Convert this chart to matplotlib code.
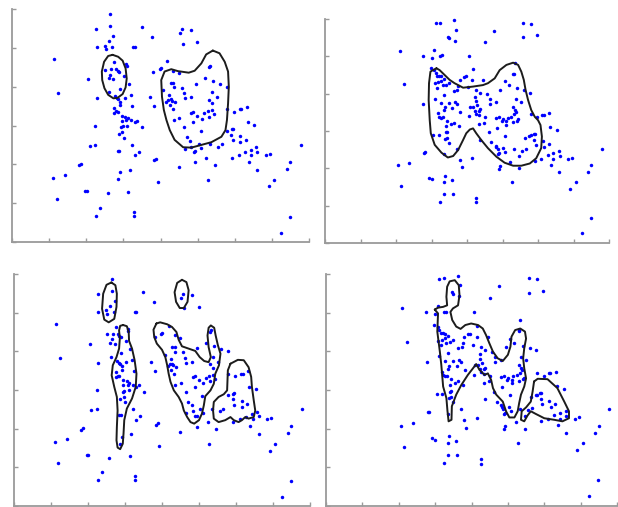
import numpy as np
import matplotlib.pyplot as plt

# sample shown in the two left panels
left_x = [2.64, 2.64, 3.50, 2.26, 4.57, 4.82, 4.52, 2.72, 3.78, 2.60,
          4.99, 4.60, 2.50, 2.69, 2.28, 3.27, 3.30, 2.52, 1.13, 4.18,
          2.76, 3.07, 5.32, 5.30, 3.09, 2.68, 2.80, 3.98, 4.01, 2.51,
          2.85, 2.89, 3.81, 4.35, 4.49, 2.64, 3.02, 5.19, 2.60, 2.06,
          2.73, 5.41, 4.27, 4.35, 4.95, 5.59, 3.14, 5.78, 4.58, 4.36,
          2.90, 4.08, 2.62, 5.39, 1.25, 4.63, 4.23, 2.78, 3.20, 2.83,
          3.04, 2.86, 2.28, 3.71, 4.65, 4.82, 5.52, 4.27, 4.21, 4.31,
          4.15, 5.30, 2.92, 4.38, 5.39, 4.25, 2.91, 3.24, 3.82, 2.75,
          4.33, 5.79, 5.98, 6.14, 6.18, 6.32, 2.80, 2.76, 2.85, 5.28,
          5.18, 5.39, 5.44, 4.88, 4.83, 2.95, 3.05, 4.99, 3.12, 4.51,
          5.12, 5.31, 3.21, 4.36, 3.30, 3.38, 2.95, 4.88, 6.36, 6.53,
          2.23, 2.94, 2.98, 3.10, 3.51, 4.64, 5.95, 5.92, 5.79, 5.08,
          2.97, 2.87, 5.91, 6.15, 4.71, 3.01, 6.31, 5.95, 4.80, 6.15,
          5.34, 5.04, 5.66, 2.09, 2.23, 3.22, 4.83, 5.56, 6.57, 5.10,
          4.65, 6.43, 2.85, 2.89, 4.94, 4.90, 3.41, 6.27, 6.61, 6.45,
          6.11, 6.85, 6.94, 3.31, 5.23, 5.93, 3.83, 3.88, 6.39, 4.94,
          7.50, 1.80, 1.86, 5.47, 4.49, 7.41, 6.61, 3.17, 2.91, 1.42,
          1.10, 2.86, 5.28, 7.06, 3.92, 6.92, 1.96, 2.01, 3.13, 2.58,
          1.20, 2.37, 3.28, 2.26, 3.28, 7.50, 7.24, 7.79, 3.08]
left_y = [5.87, 5.56, 5.53, 5.49, 5.49, 5.46, 5.39, 5.30, 5.28, 5.17,
          5.15, 5.11, 5.06, 5.03, 5.01, 5.01, 5.01, 4.96, 4.71, 4.66,
          4.63, 4.58, 4.54, 4.51, 4.52, 4.45, 4.46, 4.45, 4.47, 4.44,
          4.40, 4.37, 4.37, 4.41, 4.34, 4.31, 4.27, 4.22, 4.22, 4.19,
          4.19, 4.15, 4.10, 4.10, 4.08, 4.07, 4.06, 4.00, 3.97, 3.99,
          3.95, 3.91, 3.86, 3.85, 3.83, 3.83, 3.79, 3.76, 3.78, 3.71,
          3.72, 3.68, 3.70, 3.73, 3.70, 3.73, 3.73, 3.67, 3.66, 3.64,
          3.61, 3.66, 3.61, 3.60, 3.58, 3.53, 3.53, 3.49, 3.49, 3.46,
          3.42, 3.42, 3.36, 3.42, 3.42, 3.48, 3.37, 3.33, 3.35, 3.37,
          3.32, 3.39, 3.29, 3.36, 3.33, 3.25, 3.23, 3.25, 3.19, 3.19,
          3.18, 3.23, 3.13, 3.13, 3.09, 3.12, 3.12, 3.08, 3.08, 3.02,
          2.99, 2.95, 2.98, 2.99, 2.95, 2.95, 2.91, 2.90, 2.86, 2.85,
          2.82, 2.77, 2.76, 2.72, 2.70, 2.69, 2.63, 2.62, 2.60, 2.57,
          2.52, 2.52, 2.52, 2.47, 2.50, 2.50, 2.45, 2.45, 2.44, 2.41,
          2.40, 2.38, 2.35, 2.35, 2.34, 2.33, 2.33, 2.31, 2.32, 2.25,
          2.25, 2.25, 2.27, 2.23, 2.17, 2.17, 2.10, 2.14, 2.07, 2.05,
          2.06, 1.97, 2.01, 1.98, 1.92, 1.89, 1.86, 1.85, 1.79, 1.73,
          1.66, 1.61, 1.60, 1.60, 1.55, 1.43, 1.32, 1.31, 1.29, 1.25,
          1.10, 0.88, 0.78, 0.67, 0.68, 0.64, 0.22, 2.50, 3.14]

# sample shown in the two right panels
right_x = [3.12, 3.24, 3.62, 3.69, 3.46, 3.49, 3.65, 2.10, 2.76, 3.08,
           3.25, 3.29, 3.00, 2.98, 3.08, 3.12, 3.16, 3.21, 3.28, 3.35,
           3.28, 3.18, 3.09, 2.22, 3.16, 3.31, 3.41, 3.48, 3.62, 3.73,
           3.79, 3.91, 3.96, 3.76, 3.10, 3.36, 3.48, 3.26, 2.77, 3.39,
           3.59, 3.67, 3.71, 3.81, 3.35, 3.19, 3.22, 3.27, 3.32, 3.43,
           3.63,
           5.58, 5.81, 4.75, 5.59, 5.97, 4.52, 4.07, 4.16, 4.14, 4.46,
           5.34, 5.31, 5.30, 5.07, 5.18, 5.42, 4.94, 5.60, 5.77, 4.03,
           4.26, 4.36, 4.56, 4.22, 4.24, 4.64, 4.64, 4.81, 5.37, 5.51,
           4.09, 4.17, 4.28, 4.38, 4.34, 4.23, 4.26, 4.34, 4.06, 4.50,
           4.82, 4.90, 5.00, 5.15, 5.25, 5.30, 5.36, 5.39, 5.32, 5.45,
           5.30, 5.11, 4.49, 4.34, 5.79, 5.98, 6.12, 6.17, 6.31,
           3.04, 3.20, 3.40, 3.45, 3.43, 3.37, 3.48, 3.56, 3.77, 3.42,
           2.80, 2.83, 3.35, 3.71, 3.79, 3.85, 2.06, 2.38, 3.38, 3.35,
           3.57, 2.92, 3.00, 2.15, 3.35, 3.61, 3.25,
           4.85, 4.98, 5.11, 5.42, 4.63, 5.06, 4.38, 4.69, 4.81, 4.83,
           4.86, 5.02, 5.08, 4.88, 4.91, 5.32, 5.46, 5.54, 5.66, 5.63,
           5.76, 5.81, 5.89, 5.92, 5.90, 5.95, 6.13, 6.30, 6.18, 6.09,
           5.92, 5.46, 5.21, 4.92, 4.89, 4.14, 5.27, 4.25, 4.26, 6.35,
           6.54, 6.28, 6.42, 6.59, 6.61, 6.42, 6.38, 6.60, 6.85, 6.95,
           7.50, 7.40, 7.07, 6.91, 7.79, 7.49, 7.24]
right_y = [5.88, 5.90, 5.96, 5.71, 5.53, 5.48, 5.42, 5.13, 5.02, 5.16,
           5.02, 5.03, 4.96, 4.68, 4.63, 4.56, 4.48, 4.47, 4.46, 4.40,
           4.35, 4.30, 4.28, 4.25, 4.16, 4.22, 4.23, 4.29, 4.08, 4.10,
           4.37, 4.44, 4.46, 4.21, 3.87, 3.96, 3.76, 3.76, 3.73, 3.63,
           3.62, 3.78, 3.73, 3.51, 3.55, 3.47, 3.38, 3.35, 3.37, 3.28,
           3.22,
           5.90, 5.87, 5.69, 5.51, 5.57, 5.39, 5.01, 4.66, 4.37, 4.36,
           4.81, 4.54, 4.53, 4.33, 4.22, 4.15, 4.10, 4.09, 4.03, 4.17,
           4.11, 4.03, 3.98, 3.92, 3.81, 3.85, 3.73, 3.77, 3.86, 3.77,
           3.65, 3.64, 3.69, 3.58, 3.54, 3.54, 3.46, 3.42, 3.40, 3.37,
           3.34, 3.37, 3.31, 3.36, 3.38, 3.65, 3.56, 3.51, 3.45, 3.31,
           3.24, 3.27, 3.22, 3.19, 3.45, 3.37, 3.44, 3.44, 3.47,
           2.89, 2.90, 2.96, 2.97, 2.82, 2.79, 2.69, 3.18, 3.13, 3.13,
           2.42, 2.44, 2.38, 2.51, 2.23, 2.03, 2.08, 2.15, 1.80, 1.63,
           1.68, 1.75, 1.71, 1.52, 1.31, 1.31, 1.11,
           3.09, 3.27, 3.17, 3.28, 2.96, 2.86, 2.76, 2.70, 2.61, 2.56,
           2.52, 2.55, 2.45, 2.38, 2.40, 2.52, 2.34, 2.47, 2.53, 2.82,
           2.87, 2.88, 2.92, 2.93, 2.77, 2.63, 2.72, 2.64, 2.56, 2.24,
           2.19, 2.00, 2.18, 2.07, 1.98, 2.27, 1.63, 1.21, 1.09, 3.10,
           3.03, 2.35, 2.41, 2.46, 2.33, 2.25, 2.09, 1.89, 2.25, 2.29,
           2.08, 1.90, 1.63, 1.45, 2.51, 0.66, 0.26]

# contour outlines, top-left panel
tl_a_x = [2.71, 2.86, 2.98, 3.06, 3.09, 3.06, 2.98, 2.84, 2.73, 2.59, 2.49, 2.43, 2.42, 2.48, 2.59]
tl_a_y = [4.82, 4.77, 4.67, 4.47, 4.21, 3.98, 3.81, 3.71, 3.70, 3.79, 3.96, 4.17, 4.39, 4.64, 4.79]
tl_b_x = [5.41, 5.59, 5.73, 5.82, 5.84, 5.82, 5.79, 5.75, 5.64, 5.37, 5.10, 4.83, 4.61,
          4.38, 4.25, 4.16, 4.09, 4.04, 4.02, 4.11, 4.29, 4.47, 4.76, 4.92, 5.10, 5.23]
tl_b_y = [4.93, 4.86, 4.64, 4.39, 4.00, 3.57, 3.14, 2.88, 2.71, 2.57, 2.50, 2.43, 2.44,
          2.63, 2.88, 3.14, 3.40, 3.74, 4.17, 4.39, 4.45, 4.40, 4.36, 4.41, 4.60, 4.83]

# contour outline, top-right panel
tr_a_x = [3.14, 3.23, 3.37, 3.51, 3.65, 3.89, 4.17, 4.45, 4.59, 4.78, 4.92, 5.11, 5.30,
          5.44, 5.53, 5.60, 5.65, 5.72, 5.81, 5.91, 6.00, 6.07, 6.11, 6.09, 5.95, 5.77,
          5.53, 5.30, 5.06, 4.83, 4.59, 4.40, 4.26, 4.17, 4.08, 3.98, 3.89, 3.75, 3.61,
          3.46, 3.28, 3.09, 2.98, 2.95, 2.92, 2.93, 2.97, 3.04]
tr_a_y = [4.68, 4.63, 4.50, 4.37, 4.28, 4.16, 4.19, 4.23, 4.28, 4.41, 4.63, 4.77, 4.83,
          4.77, 4.59, 4.37, 4.10, 3.83, 3.56, 3.38, 3.29, 3.16, 2.85, 2.54, 2.27, 2.13,
          2.07, 2.07, 2.15, 2.31, 2.54, 2.76, 2.94, 3.07, 3.04, 2.94, 2.76, 2.49, 2.33,
          2.29, 2.42, 2.63, 2.94, 3.29, 3.83, 4.28, 4.59, 4.63]

# contour outlines, bottom-left panel
bl_a_x = [2.63, 2.74, 2.78, 2.77, 2.71, 2.56, 2.44, 2.38, 2.41, 2.50]
bl_a_y = [5.78, 5.71, 5.49, 5.15, 4.84, 4.75, 4.82, 5.10, 5.49, 5.72]
bl_b_x = [2.95, 3.05, 3.10, 3.11, 3.19, 3.26, 3.31, 3.29, 3.19, 3.05, 2.98, 2.96, 2.94,
          2.87, 2.80, 2.77, 2.78, 2.80, 2.78, 2.71, 2.64, 2.67, 2.77, 2.84, 2.86, 2.84, 2.87]
bl_b_y = [4.68, 4.65, 4.50, 4.27, 4.07, 3.77, 3.42, 3.08, 2.78, 2.52, 2.22, 1.87, 1.61,
          1.47, 1.51, 1.70, 2.04, 2.47, 2.82, 3.08, 3.38, 3.64, 3.85, 4.07, 4.33, 4.54, 4.66]
bl_c_x = [4.54, 4.66, 4.72, 4.69, 4.59, 4.48, 4.38, 4.34, 4.41]
bl_c_y = [5.85, 5.79, 5.58, 5.28, 5.12, 5.12, 5.28, 5.53, 5.77]
bl_d_x = [3.85, 3.95, 4.14, 4.27, 4.39, 4.45, 4.54, 4.72, 4.90, 5.02, 5.14, 5.26, 5.32,
          5.26, 5.23, 5.26, 5.32, 5.41, 5.45, 5.51, 5.58, 5.54, 5.44, 5.40, 5.31, 5.17,
          5.13, 5.08, 5.00, 4.87, 4.77, 4.68, 4.59, 4.54, 4.45, 4.32, 4.23, 4.18, 4.14,
          4.09, 4.00, 3.86, 3.79, 3.77]
bl_d_y = [4.72, 4.75, 4.70, 4.63, 4.50, 4.30, 4.13, 4.07, 4.01, 3.85, 3.75, 3.72, 3.85,
          4.11, 4.41, 4.61, 4.67, 4.61, 4.41, 4.16, 3.94, 3.64, 3.42, 3.16, 2.99, 2.84,
          2.60, 2.39, 2.22, 2.13, 2.17, 2.30, 2.47, 2.65, 2.82, 2.99, 3.21, 3.42, 3.64,
          3.85, 4.04, 4.20, 4.37, 4.56]
bl_e_x = [5.85, 6.05, 6.21, 6.34, 6.41, 6.43, 6.48, 6.52, 6.48, 6.34, 6.25, 6.16, 6.07,
          5.94, 5.85, 5.71, 5.53, 5.40, 5.38, 5.40, 5.53, 5.67, 5.76, 5.77, 5.78]
bl_e_y = [3.68, 3.78, 3.77, 3.59, 3.34, 3.08, 2.73, 2.47, 2.30, 2.26, 2.30, 2.22, 2.17,
          2.22, 2.30, 2.22, 2.17, 2.26, 2.47, 2.69, 2.82, 2.89, 2.99, 3.25, 3.51]

# contour outlines, bottom-right panel
br_a_x = [2.99, 3.08, 3.06, 3.13, 3.17, 3.22, 3.31, 3.34, 3.37, 3.45, 3.46, 3.58, 3.72,
          3.90, 4.04, 4.13, 4.22, 4.36, 4.45, 4.54, 4.59, 4.68, 4.86, 4.95, 5.04, 5.18,
          5.27, 5.31, 5.36, 5.45, 5.50, 5.45, 5.42, 5.45, 5.50, 5.47, 5.34, 5.20, 5.10,
          5.07, 5.00, 4.86, 4.72, 4.59, 4.49, 4.40, 4.31, 4.18, 3.99, 3.83, 3.70, 3.58,
          3.47, 3.42, 3.49, 3.63, 3.67, 3.65, 3.54, 3.40, 3.33, 3.31, 3.33, 3.22, 3.08]
br_a_y = [5.08, 4.98, 4.51, 3.99, 3.65, 3.09, 2.79, 2.45, 2.19, 2.23, 2.58, 2.88, 3.13,
          3.39, 3.56, 3.67, 3.52, 3.39, 3.43, 3.26, 3.05, 2.88, 2.70, 2.45, 2.29, 2.29,
          2.45, 2.66, 2.88, 3.09, 3.30, 3.56, 3.82, 4.08, 4.33, 4.51, 4.59, 4.55, 4.38,
          4.12, 3.91, 3.75, 3.82, 3.99, 4.21, 4.42, 4.59, 4.68, 4.72, 4.68, 4.58, 4.64,
          4.81, 5.02, 5.11, 5.19, 5.45, 5.71, 5.84, 5.81, 5.67, 5.41, 5.19, 5.15, 5.13]
br_b_x = [5.72, 5.82, 6.09, 6.36, 6.55, 6.68, 6.68, 6.50, 6.27, 6.00, 5.77, 5.63, 5.54,
          5.45, 5.36, 5.38, 5.50, 5.63, 5.68]
br_b_y = [3.22, 3.29, 3.28, 3.05, 2.70, 2.45, 2.27, 2.19, 2.23, 2.27, 2.38, 2.45, 2.34,
          2.19, 2.23, 2.45, 2.55, 2.70, 2.96]

W, H = 618, 507
fig = plt.figure(figsize=(W / 100, H / 100), dpi=100)

# (left, top, right, bottom) of each plot frame in pixels
frames = [(12, 9, 309, 242), (325, 19, 609, 243),
          (14, 274, 310, 506), (326, 274, 617, 506)]
points = [(left_x, left_y), (right_x, right_y), (left_x, left_y), (right_x, right_y)]
rings = [[(tl_a_x, tl_a_y), (tl_b_x, tl_b_y)],
         [(tr_a_x, tr_a_y)],
         [(bl_a_x, bl_a_y), (bl_b_x, bl_b_y), (bl_c_x, bl_c_y), (bl_d_x, bl_d_y), (bl_e_x, bl_e_y)],
         [(br_a_x, br_a_y), (br_b_x, br_b_y)]]

axis_grey = '#9a9a9a'
for (l, t, r, b), (px, py), rr in zip(frames, points, rings):
    ax = fig.add_axes([l / W, (H - b) / H, (r - l) / W, (b - t) / H])
    ax.plot(px, py, 'o', ms=2.5, color='#0000ff', mec='none', ls='none', clip_on=False)
    for cx, cy in rr:
        ax.plot(cx + cx[:1], cy + cy[:1], color='#1c1c1c', lw=1.4,
                solid_joinstyle='round', solid_capstyle='round')
    ax.set_xlim(0, 8)
    ax.set_ylim(0, 6)
    ax.set_xticks(range(9))
    ax.set_yticks(range(7))
    ax.tick_params(direction='in', length=3, width=1, color=axis_grey,
                   labelbottom=False, labelleft=False)
    ax.spines['top'].set_visible(False)
    ax.spines['right'].set_visible(False)
    for s in ('left', 'bottom'):
        ax.spines[s].set_color(axis_grey)
        ax.spines[s].set_linewidth(1.3)

fig.savefig('out.png', dpi=100)
